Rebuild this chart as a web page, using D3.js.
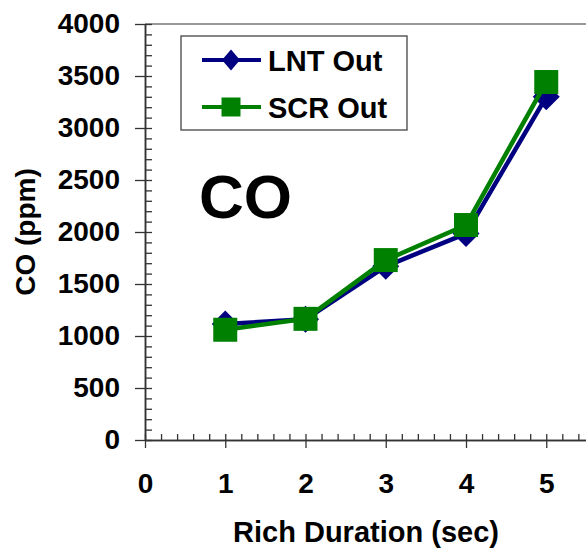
<!DOCTYPE html>
<html>
<head>
<meta charset="utf-8">
<script src="https://cdn.jsdelivr.net/npm/d3@7"></script>
<style>
  body { margin: 0; background: #fff; }
  svg { display: block; font-family: "Liberation Sans", Arial, sans-serif; font-weight: bold; }
</style>
</head>
<body>
<div id="chart"></div>
<script>
const durations = [1, 2, 3, 4, 5];
const lntOut = [1115, 1160, 1670, 1985, 3300];
const scrOut = [1060, 1165, 1730, 2067, 3442];
const yTicks = [0, 500, 1000, 1500, 2000, 2500, 3000, 3500, 4000];
const xTicks = [0, 1, 2, 3, 4, 5];

const width = 586;
const height = 548;
const plot = { left: 145, top: 24, bottom: 440, right: 626.5 };
const axisColor = '#333';

const svg = d3.select('#chart')
  .append('svg')
    .attr('width', width)
    .attr('height', height);

const x = d3.scaleLinear().domain([0, 6]).range([plot.left, plot.right]);
const y = d3.scaleLinear().domain([0, 4000]).range([plot.bottom, plot.top]);

// top frame line
svg.append('line')
  .attr('x1', plot.left).attr('x2', width)
  .attr('y1', plot.top).attr('y2', plot.top)
  .attr('stroke', '#999').attr('stroke-width', 2);

// y axis: major ticks outside, minor inside
const yMinor = svg.append('g')
  .attr('transform', `translate(${plot.left},0)`)
  .call(d3.axisLeft(y).tickValues(d3.range(0, 4001, 100)).tickSize(-7).tickSizeOuter(0).tickFormat(''));
const yMajor = svg.append('g')
  .attr('transform', `translate(${plot.left},0)`)
  .call(d3.axisLeft(y).tickValues(yTicks).tickSize(10).tickSizeOuter(0).tickPadding(15).tickFormat(d3.format('d')));

// x axis: major ticks outside, minor inside
const xMinor = svg.append('g')
  .attr('transform', `translate(0,${plot.bottom})`)
  .call(d3.axisBottom(x).tickValues(d3.range(0, 31).map(i => i * 0.2)).tickSize(-6).tickSizeOuter(0).tickFormat(''));
const xMajor = svg.append('g')
  .attr('transform', `translate(0,${plot.bottom})`)
  .call(d3.axisBottom(x).tickValues(xTicks).tickSize(8).tickSizeOuter(0).tickPadding(25).tickFormat(d3.format('d')));

[yMinor, yMajor, xMinor, xMajor].forEach(g => {
  g.select('.domain').attr('stroke', axisColor).attr('stroke-width', 1.5);
  g.selectAll('.tick line').attr('stroke', axisColor).attr('stroke-width', 1.3);
  g.selectAll('.tick text')
    .attr('fill', '#000')
    .style('font-size', '28px')
    .style('font-family', '"Liberation Sans", Arial, sans-serif')
    .style('font-weight', 'bold');
});

// axis titles
svg.append('text')
  .attr('x', 366).attr('y', 542)
  .attr('text-anchor', 'middle')
  .style('font-size', '29px')
  .text('Rich Duration (sec)');

svg.append('text')
  .attr('transform', 'translate(35,232) rotate(-90)')
  .attr('text-anchor', 'middle')
  .style('font-size', '28px')
  .text('CO (ppm)');

// big label
svg.append('text')
  .attr('x', 199).attr('y', 218)
  .style('font-size', '62px')
  .text('CO');

const diamond = (hw, hh) => `M0,${-hh}L${hw},0L0,${hh}L${-hw},0Z`;
const square = s => `M${-s / 2},${-s / 2}h${s}v${s}h${-s}Z`;

const series = [
  { name: 'LNT Out', values: lntOut, color: '#000080', marker: diamond(13.5, 13.5), legendMarker: diamond(9, 10.5) },
  { name: 'SCR Out', values: scrOut, color: '#008000', marker: square(24), legendMarker: square(19) },
];

const line = d3.line()
  .x((d, i) => x(durations[i]))
  .y(d => y(d));

series.forEach(s => {
  const g = svg.append('g');
  g.append('path')
    .attr('d', line(s.values))
    .attr('fill', 'none')
    .attr('stroke', s.color)
    .attr('stroke-width', 4.5)
    .attr('stroke-linejoin', 'round');
  g.selectAll('path.marker')
    .data(s.values)
    .enter()
    .append('path')
      .attr('class', 'marker')
      .attr('transform', (d, i) => `translate(${x(durations[i])},${y(d)})`)
      .attr('d', s.marker)
      .attr('fill', s.color);
});

// legend
const legend = svg.append('g');
legend.append('rect')
  .attr('x', 181).attr('y', 36)
  .attr('width', 226).attr('height', 94)
  .attr('fill', '#fff')
  .attr('stroke', '#444')
  .attr('stroke-width', 1.3);

series.forEach((s, i) => {
  const ly = 60 + i * 47;
  legend.append('line')
    .attr('x1', 202).attr('x2', 261)
    .attr('y1', ly).attr('y2', ly)
    .attr('stroke', s.color)
    .attr('stroke-width', 4);
  legend.append('path')
    .attr('transform', `translate(231,${ly})`)
    .attr('d', s.legendMarker)
    .attr('fill', s.color);
  legend.append('text')
    .attr('x', 268).attr('y', ly + 11)
    .style('font-size', '29px')
    .text(s.name);
});
</script>
</body>
</html>
